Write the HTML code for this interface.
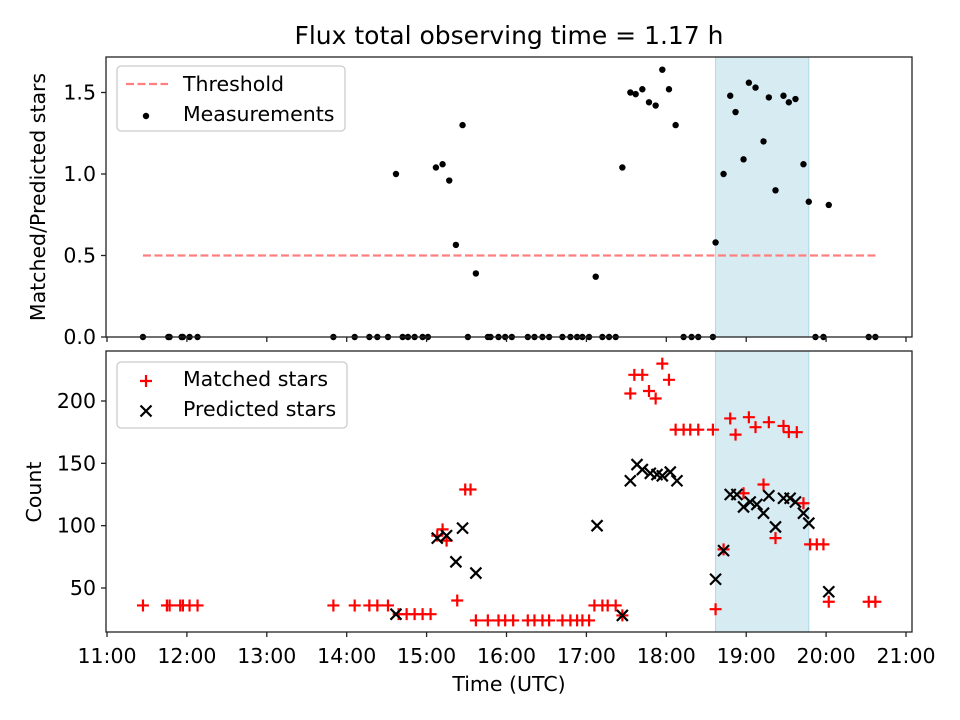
<!DOCTYPE html>
<html><head><meta charset="utf-8"><style>
body{margin:0;background:#fff}
svg{display:block;font-family:"DejaVu Sans","Liberation Sans",sans-serif}
</style></head><body>
<svg id="c" width="960" height="720"></svg>
<script>
// times in minutes since 11:00 UTC
const measTime=[27,46,47,56,57,62,68,170,186,197,203,211,222,226,231,237,241,271,286,288,294,299,304,316,321,327,332,342,348,353,357,362,372,377,382,433,439,444,455,532,538,572,577,
217,247,252,257,262,267,277,367,387,393,397,402,407,412,417,422,427,457,463,468,472,478,482,487,493,497,502,508,512,517,523,527,542];
const measRatio=[0,0,0,0,0,0,0,0,0,0,0,0,0,0,0,0,0,0,0,0,0,0,0,0,0,0,0,0,0,0,0,0,0,0,0,0,0,0,0,0,0,0,0,
1.0,1.04,1.06,0.96,0.565,1.30,0.39,0.37,1.04,1.50,1.49,1.52,1.44,1.42,1.64,1.52,1.30,0.58,1.0,1.48,1.38,1.09,1.56,1.53,1.20,1.47,0.90,1.48,1.44,1.46,1.06,0.83,0.81];
const matchedTime=[27,45,47,55,57,62,68,170,186,197,203,211,219,225,231,237,243,248,252,255,263,269,273,277,286,294,299,305,316,321,327,332,342,348,353,357,362,366,372,376,382,387,393,396,402,407,412,417,422,427,433,438,444,455,457,463,468,472,478,482,487,493,497,502,508,512,518,523,528,533,538,542,572,577];
const matchedCount=[36,36,36,36,36,36,36,36,36,36,36,36,29,29,29,29,29,92,97,88,40,129,129,24,24,24,24,24,24,24,24,24,24,24,24,24,24,36,36,36,36,28,206,221,221,208,202,230,217,177,177,177,177,177,33,81,186,173,126,187,179,133,183,90,180,175,175,118,85,85,85,39,39,39];
const predTime=[217,248,255,262,267,277,368,387,393,398,402,408,413,417,423,428,457,463,468,473,478,483,488,493,497,502,508,513,517,523,527,542];
const predCount=[29,90,92,71,98,62,100,28,136,149,145,142,141,140,143,136,57,80,125,125,115,119,117,110,124,99,122,122,119,110,102,47];
const xTickVals=[0,60,120,180,240,300,360,420,480,540,600];
const xTickLabels=["11:00","12:00","13:00","14:00","15:00","16:00","17:00","18:00","19:00","20:00","21:00"];
const topTicks=[0,0.5,1.0,1.5];
const botTicks=[50,100,150,200];
const threshold=0.5, thrStart=27, thrEnd=577;
const spanStart=457, spanEnd=527;

const NS="http://www.w3.org/2000/svg";
const svg=document.getElementById('c');
function el(t,a,p){const e=document.createElementNS(NS,t);for(const k in a)e.setAttribute(k,a[k]);(p||svg).appendChild(e);return e;}
const L=106,R=912,T1=57,B1=337,T2=351,B2=632;
const FS=20.5;
const X=m=>107+m*79.9/60;
const Y1=v=>337-v*163;
const Y2=c=>588-(c-50)*1.2467;

for(const [t,b] of [[T1,B1],[T2,B2]]){
  const s=el('rect',{x:X(spanStart),y:t,width:X(spanEnd)-X(spanStart),height:b-t,fill:'#add8e6','fill-opacity':0.5,stroke:'#add8e6'});
  
  
}
let th=el('line',{x1:X(thrStart),x2:X(thrEnd),y1:Y1(threshold),y2:Y1(threshold),stroke:'#ff7f7f','stroke-width':2.2,'stroke-dasharray':'8,3.5'});


measTime.forEach((t,i)=>{
  const c=el('circle',{cx:X(t),cy:Y1(measRatio[i]),r:3.2,fill:'#000'});
  
  
});
matchedTime.forEach((t,i)=>{
  const x=X(t),y=Y2(matchedCount[i]);
  const g=el('path',{d:`M${x-6},${y}H${x+6}M${x},${y-6}V${y+6}`,stroke:'#f00','stroke-width':2.2});
  
  
});
predTime.forEach((t,i)=>{
  const x=X(t),y=Y2(predCount[i]);
  const g=el('path',{d:`M${x-5.5},${y-5.5}L${x+5.5},${y+5.5}M${x-5.5},${y+5.5}L${x+5.5},${y-5.5}`,stroke:'#000','stroke-width':2.2});
  
  
});
for(const [t,b,n] of [[T1,B1,'top-axes-frame'],[T2,B2,'bottom-axes-frame']]){
  const f=el('rect',{x:L,y:t,width:R-L,height:b-t,fill:'none',stroke:'#222','stroke-width':1.3});
  
  
}
xTickVals.forEach((v,i)=>{
  const x=X(v);
  el('line',{x1:x,x2:x,y1:B1,y2:B1+5,stroke:'#222','stroke-width':1.3});
  el('line',{x1:x,x2:x,y1:B2,y2:B2+5,stroke:'#222','stroke-width':1.3});
  const tx=el('text',{x:x,y:663,'text-anchor':'middle','font-size':FS});
  tx.textContent=xTickLabels[i];
  
  
});
topTicks.forEach(v=>{
  const y=Y1(v);
  el('line',{x1:L-5,x2:L,y1:y,y2:y,stroke:'#222','stroke-width':1.3});
  const tx=el('text',{x:L-10,y:y+7,'text-anchor':'end','font-size':FS});
  tx.textContent=v.toFixed(1);
  
  
});
botTicks.forEach(v=>{
  const y=Y2(v);
  el('line',{x1:L-5,x2:L,y1:y,y2:y,stroke:'#222','stroke-width':1.3});
  const tx=el('text',{x:L-10,y:y+7,'text-anchor':'end','font-size':FS});
  tx.textContent=v;
  
  
});
function txt(s,a,name){const t=el('text',a);t.textContent=s;return t;}
txt('Flux total observing time = 1.17 h',{x:509,y:44,'text-anchor':'middle','font-size':25},'chart-title');
txt('Time (UTC)',{x:509,y:691,'text-anchor':'middle','font-size':FS},'x-axis-title');
txt('Matched/Predicted stars',{x:0,y:0,'text-anchor':'middle','font-size':FS,transform:'translate(45,197) rotate(-90)'},'top-y-axis-title');
txt('Count',{x:0,y:0,'text-anchor':'middle','font-size':FS,transform:'translate(41,492) rotate(-90)'},'bottom-y-axis-title');
let lg=el('rect',{x:117,y:66,width:228,height:65,rx:4,fill:'#fff','fill-opacity':0.8,stroke:'#ccc','stroke-width':1.3});


el('line',{x1:126,x2:168,y1:84,y2:84,stroke:'#ff7f7f','stroke-width':2.2,'stroke-dasharray':'8,3.5'});
txt('Threshold',{x:183,y:91,'font-size':FS},'legend-threshold');
el('circle',{cx:146,cy:116,r:3.2,fill:'#000'});
txt('Measurements',{x:183,y:121,'font-size':FS},'legend-measurements');
let lg2=el('rect',{x:117,y:362,width:230,height:66,rx:4,fill:'#fff','fill-opacity':0.8,stroke:'#ccc','stroke-width':1.3});


el('path',{d:'M140,381H152M146,375V387',stroke:'#f00','stroke-width':2.2});
txt('Matched stars',{x:183,y:386,'font-size':FS},'legend-matched-stars');
el('path',{d:'M140.5,405.5L151.5,416.5M140.5,416.5L151.5,405.5',stroke:'#000','stroke-width':2.2});
txt('Predicted stars',{x:183,y:416,'font-size':FS},'legend-predicted-stars');
</script>
</body></html>
